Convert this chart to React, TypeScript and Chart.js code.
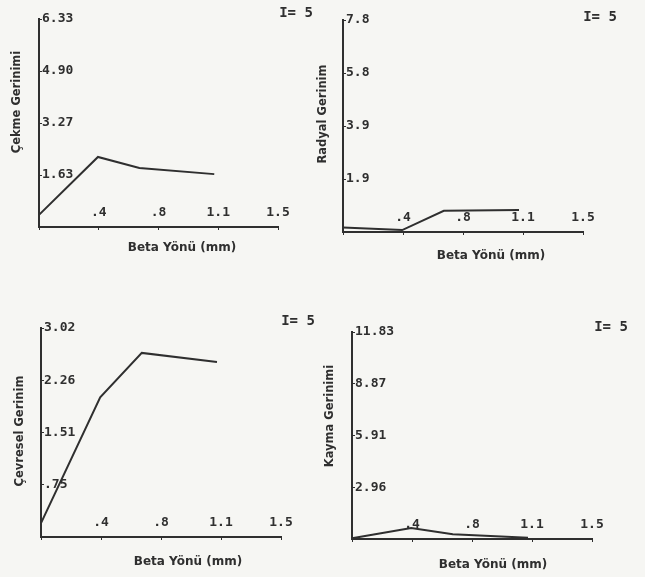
import React, { useEffect, useRef } from 'react';
import { Chart, registerables } from 'chart.js';

Chart.register(...registerables);

// ---- data ----
const BETA_MM = [0, 0.37, 0.63, 1.1];
const X_TICK_VALUES = [0, 0.375, 0.75, 1.125, 1.5];
const X_TICK_LABELS = ['', '.4', '.8', '1.1', '1.5'];
const X_TITLE = 'Beta Yönü (mm)';
const I_LABEL = 'I= 5';

const CEKME = [0.38, 2.2, 1.85, 1.66];
const CEKME_MAX = 6.53;
const CEKME_TICKS = ['', '1.63', '3.27', '4.90', '6.33'];

const RADYAL = [0.17, 0.07, 0.78, 0.81];
const RADYAL_MAX = 7.8;
const RADYAL_TICKS = ['', '1.9', '3.9', '5.8', '7.8'];

const CEVRESEL = [0.2, 2.02, 2.66, 2.53];
const CEVRESEL_MAX = 3.02;
const CEVRESEL_TICKS = ['', '.75', '1.51', '2.26', '3.02'];

const KAYMA = [0.04, 0.63, 0.27, 0.07];
const KAYMA_MAX = 11.83;
const KAYMA_TICKS = ['', '2.96', '5.91', '8.87', '11.83'];

// ---- layout / style ----
const W = 645;
const H = 577;
const INK = '#2f2f2f';
const PAPER = '#f6f6f3';

type Panel = {
  title: string;
  values: number[];
  max: number;
  ticks: string[];
  area: { l: number; r: number; t: number; b: number };
  yTitlePos: [number, number];
  xTitlePos: [number, number];
  iPos: [number, number];
};

const PANELS: Panel[] = [
  {
    title: 'Çekme Gerinimi', values: CEKME, max: CEKME_MAX, ticks: CEKME_TICKS,
    area: { l: 39, r: 278, t: 19, b: 227 },
    yTitlePos: [17, 102], xTitlePos: [182, 248], iPos: [296, 13],
  },
  {
    title: 'Radyal Gerinim', values: RADYAL, max: RADYAL_MAX, ticks: RADYAL_TICKS,
    area: { l: 343, r: 583, t: 20, b: 232 },
    yTitlePos: [323, 114], xTitlePos: [491, 256], iPos: [600, 17],
  },
  {
    title: 'Çevresel Gerinim', values: CEVRESEL, max: CEVRESEL_MAX, ticks: CEVRESEL_TICKS,
    area: { l: 41, r: 281, t: 328, b: 537 },
    yTitlePos: [20, 431], xTitlePos: [188, 562], iPos: [298, 321],
  },
  {
    title: 'Kayma Gerinimi', values: KAYMA, max: KAYMA_MAX, ticks: KAYMA_TICKS,
    area: { l: 352, r: 592, t: 332, b: 539 },
    yTitlePos: [330, 416], xTitlePos: [493, 565], iPos: [611, 327],
  },
];

const panelTextPlugin = {
  id: 'panelText',
  afterDraw(chart: any, _args: any, opts: any) {
    const ctx = chart.ctx as CanvasRenderingContext2D;
    ctx.save();
    ctx.fillStyle = INK;
    ctx.textAlign = 'center';
    ctx.textBaseline = 'middle';
    ctx.font = 'bold 12px "DejaVu Sans"';
    ctx.fillText(X_TITLE, opts.xTitlePos[0], opts.xTitlePos[1]);
    ctx.font = 'bold 14px "DejaVu Sans Mono"';
    ctx.fillText(I_LABEL, opts.iPos[0], opts.iPos[1]);
    ctx.translate(opts.yTitlePos[0], opts.yTitlePos[1]);
    ctx.rotate(-Math.PI / 2);
    ctx.font = 'bold 11.5px "DejaVu Sans"';
    ctx.fillText(opts.yTitle, 0, 0);
    ctx.restore();
  },
};

function PanelChart({ p }: { p: Panel }) {
  const ref = useRef<HTMLCanvasElement | null>(null);
  useEffect(() => {
    if (!ref.current) return;
    const yVals = [0, p.max / 4, p.max / 2, (3 * p.max) / 4, p.max];
    const chart = new Chart(ref.current, {
      type: 'line',
      data: {
        datasets: [
          {
            data: BETA_MM.map((x, i) => ({ x, y: p.values[i] })),
            borderColor: INK,
            borderWidth: 2,
            pointRadius: 0,
            tension: 0,
            fill: false,
            clip: false as any,
          },
        ],
      },
      options: {
        animation: false,
        responsive: false,
        events: [],
        layout: {
          padding: { left: p.area.l, right: W - p.area.r, top: p.area.t, bottom: H - p.area.b },
        },
        plugins: {
          legend: { display: false },
          tooltip: { enabled: false },
          panelText: { yTitle: p.title, yTitlePos: p.yTitlePos, xTitlePos: p.xTitlePos, iPos: p.iPos },
        } as any,
        scales: {
          x: {
            type: 'linear',
            min: 0,
            max: 1.5,
            afterFit: (s: any) => { s.height = 0; },
            afterBuildTicks: (s: any) => { s.ticks = X_TICK_VALUES.map((v) => ({ value: v })); },
            ticks: {
              mirror: true,
              padding: 7,
              autoSkip: false,
              maxRotation: 0,
              minRotation: 0,
              color: INK,
              font: { family: '"DejaVu Sans Mono"', size: 13, weight: 'bold' },
              callback: (_v: any, i: number) => X_TICK_LABELS[i],
            },
            grid: { display: true, drawOnChartArea: false, drawTicks: true, tickLength: 3, color: INK, lineWidth: 1 },
            border: { display: true, color: INK, width: 2 },
          },
          y: {
            type: 'linear',
            min: 0,
            max: p.max,
            afterFit: (s: any) => { s.width = 0; },
            afterBuildTicks: (s: any) => { s.ticks = yVals.map((v) => ({ value: v })); },
            ticks: {
              mirror: true,
              padding: 3,
              autoSkip: false,
              color: INK,
              font: { family: '"DejaVu Sans Mono"', size: 13, weight: 'bold' },
              callback: (_v: any, i: number) => p.ticks[i],
            },
            grid: { display: true, drawOnChartArea: false, drawTicks: true, tickLength: -3, color: INK, lineWidth: 1 },
            border: { display: true, color: INK, width: 2 },
          },
        },
      },
      plugins: [panelTextPlugin],
    });
    return () => chart.destroy();
  }, [p]);
  return (
    <canvas
      ref={ref}
      width={W}
      height={H}
      style={{ position: 'absolute', left: 0, top: 0, width: W, height: H }}
    />
  );
}

export default function App() {
  return (
    <div
      style={{
        position: 'fixed',
        left: 0,
        top: 0,
        width: W,
        height: H,
        overflow: 'hidden',
        background: PAPER,
      }}
    >
      {PANELS.map((p, i) => (
        <PanelChart key={i} p={p} />
      ))}
    </div>
  );
}
